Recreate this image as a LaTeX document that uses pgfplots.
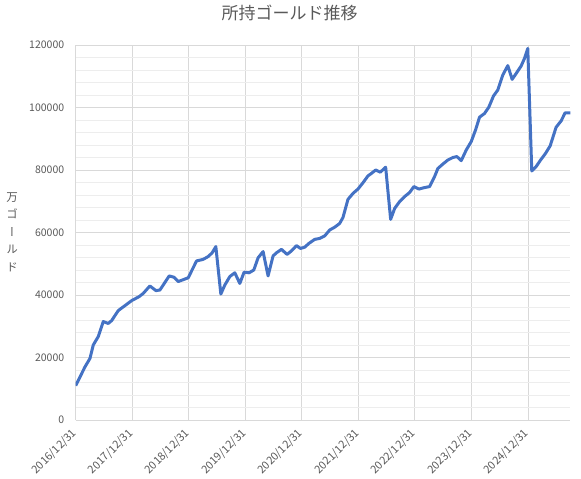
\documentclass[border=0pt]{standalone}
\usepackage{fontspec}
\setmainfont{Noto Sans CJK JP}
\newfontfamily\cjkv[RawFeature=+vert]{Noto Sans CJK JP}
\usepackage{pgfplots}
\pgfplotsset{compat=1.18}
\definecolor{txt}{HTML}{595959}
\definecolor{majgrid}{HTML}{D9D9D9}
\definecolor{mingrid}{HTML}{EDEDED}
\definecolor{gold}{HTML}{4472C4}

\begin{document}
\begin{tikzpicture}
\path[use as bounding box] (0pt,0pt) rectangle (581pt,479pt);
\node[text=txt, font=\fontsize{17}{20}\selectfont] at (289.5pt,466pt) {所持ゴールド推移};
\node[text=txt, font=\cjkv\fontsize{11.5}{17.5}\selectfont, align=center] at (12pt,247pt) {万\\ゴ\\ー\\ル\\ド};
\begin{axis}[
  at={(75.7pt,59pt)}, anchor=south west,
  scale only axis, width=494.6pt, height=375pt,
  xmin=0, xmax=105, ymin=0, ymax=120000,
  xtick={0,12,24,36,48,60,72,84,96},
  xticklabels={2016/12/31,2017/12/31,2018/12/31,2019/12/31,2020/12/31,2021/12/31,2022/12/31,2023/12/31,2024/12/31},
  ytick={0,20000,40000,60000,80000,100000,120000},
  yticklabels={0,20000,40000,60000,80000,100000,120000},
  scaled y ticks=false,
  minor y tick num=4,
  grid=both,
  major grid style={majgrid, line width=0.8pt},
  minor grid style={mingrid, line width=0.8pt},
  axis line style={draw=none},
  tick style={draw=none},
  yticklabel style={text=txt, font=\fontsize{10.5}{12}\selectfont, xshift=-8pt},
  xticklabel style={text=txt, font=\fontsize{11}{12}\selectfont, xshift=1.5pt, yshift=-9pt, rotate=45, anchor=east},
]
\addplot[gold, line width=3pt, line join=round] table {
0 11000
1.97 17000
3.03 19700
3.73 24000
4.79 26700
5.85 31500
6.91 30900
7.63 31800
9.03 35000
10.45 36600
11.87 38200
13.49 39500
14.33 40500
15.75 42900
17.03 41400
17.88 41600
19.85 46100
20.84 45700
21.76 44300
23.88 45500
25.66 50900
27.06 51400
28.12 52300
28.97 53500
29.75 55500
30.81 40300
31.66 43200
32.72 45900
33.78 47100
34.84 43700
35.75 47300
36.81 47100
37.81 48000
38.72 51900
39.78 53900
40.84 46100
41.90 52500
42.62 53500
43.68 54600
44.87 53000
45.80 54100
46.86 55800
47.71 54900
48.62 55300
49.50 56500
50.74 57800
51.80 58100
52.86 58900
53.92 60800
54.98 61700
56.04 62900
56.74 64800
57.80 70600
58.86 72500
59.92 73900
60.98 75900
62.04 78100
62.77 78900
63.68 80000
64.67 79300
65.80 80900
66.86 64200
67.71 67700
68.77 69900
69.83 71500
70.89 72800
71.80 74700
72.86 73900
73.86 74300
75.13 74700
76.19 77900
76.89 80500
77.95 81900
79.01 83200
80.07 84000
80.92 84300
81.85 83000
82.91 86400
83.97 89100
84.88 92800
85.73 96900
86.79 98100
87.70 100100
88.70 103700
89.61 105600
90.67 110400
91.73 113400
92.66 109000
93.51 110900
94.57 113300
95.27 115700
95.97 118900
96.82 79700
97.75 81100
98.60 83000
99.73 85300
100.72 87700
101.99 93700
103.05 95700
103.90 98300
105 98300
};
\end{axis}
\end{tikzpicture}
\end{document}
